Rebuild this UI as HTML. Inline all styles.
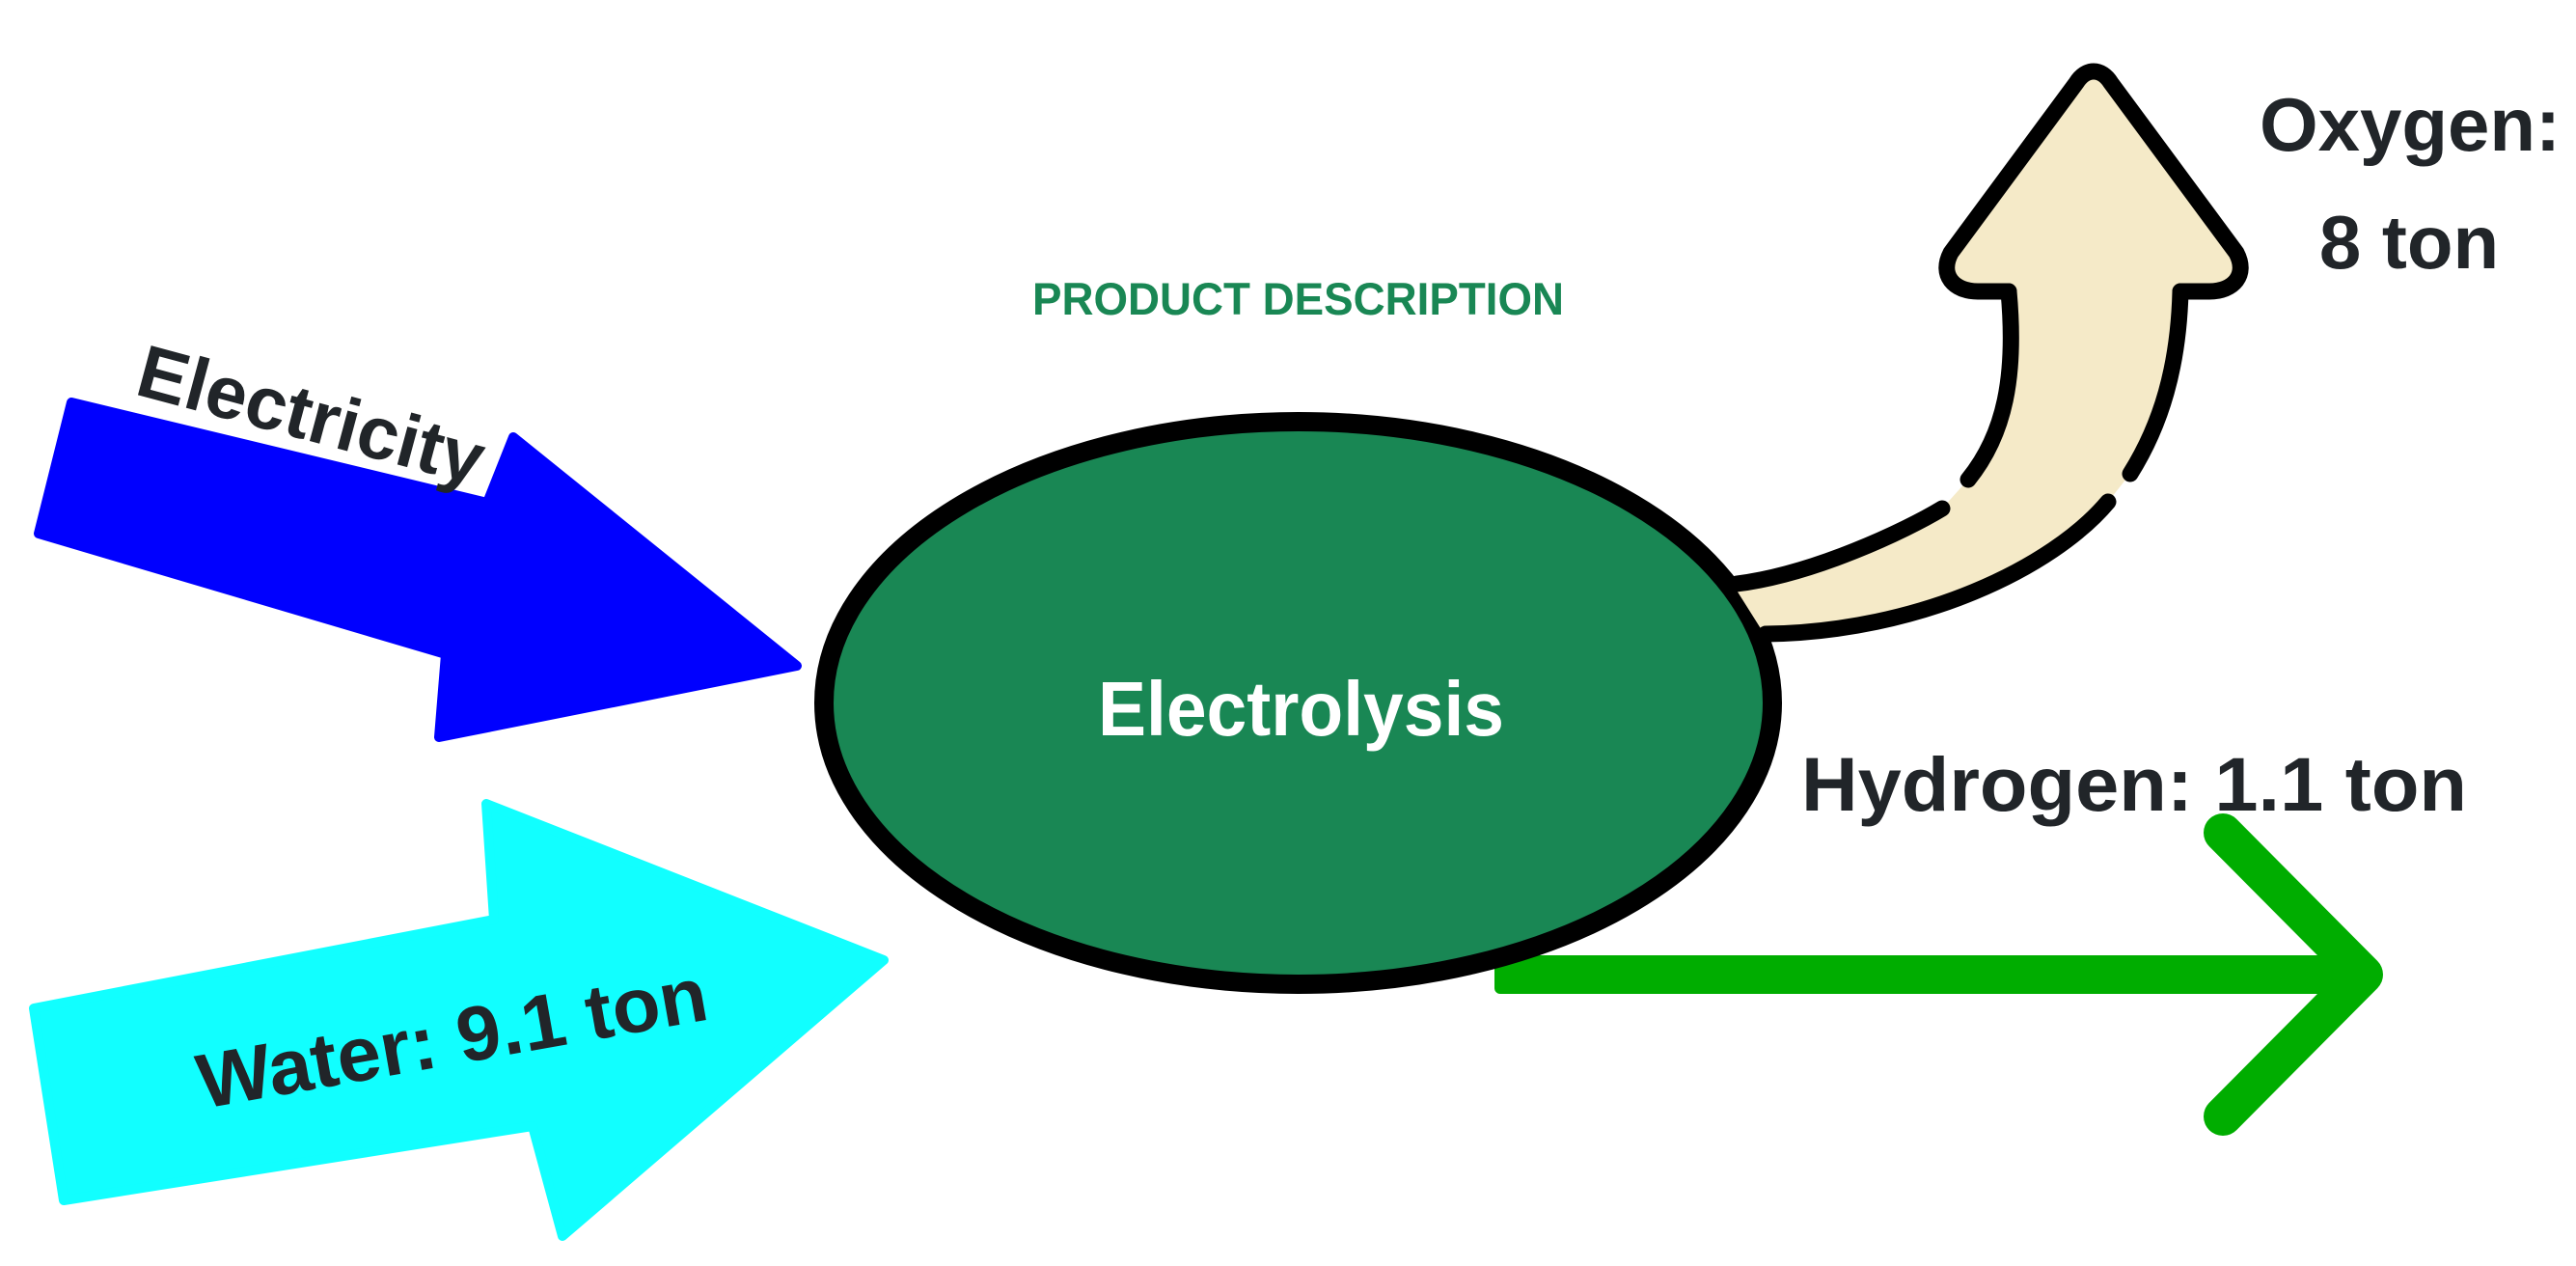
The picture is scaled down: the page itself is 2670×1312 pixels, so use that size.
<!DOCTYPE html>
<html>
<head>
<meta charset="utf-8">
<style>
html,body{margin:0;padding:0;background:#ffffff;}
svg{display:block;}
text{font-family:"Liberation Sans",Arial,sans-serif;font-weight:bold;}
</style>
</head>
<body>
<svg width="2670" height="1312" viewBox="0 0 2670 1312" xmlns="http://www.w3.org/2000/svg">
<rect width="2670" height="1312" fill="#ffffff"/>

<!-- Electricity (blue) arrow -->
<polygon points="74,417 505,521 532,453 826,690 455,764 462,678 40,553" fill="#0000ff" stroke="#0000ff" stroke-width="10" stroke-linejoin="round"/>
<text transform="translate(138,408) rotate(15)" font-size="77" fill="#212529" textLength="368" lengthAdjust="spacingAndGlyphs">Electricity</text>

<!-- Water (cyan) arrow -->
<polygon points="35,1045 512,953 504,833 916,995 583,1281 552,1167 66,1244" fill="#11ffff" stroke="#11ffff" stroke-width="10" stroke-linejoin="round"/>
<text transform="translate(210,1149) rotate(-10)" font-size="80" fill="#212529" textLength="535" lengthAdjust="spacingAndGlyphs">Water: 9.1 ton</text>

<!-- Hydrogen (green) arrow -->
<rect x="1549" y="990" width="905" height="40" rx="6" fill="#00ad00"/>
<polyline points="2304,863 2450,1010 2304,1157" fill="none" stroke="#00ad00" stroke-width="40" stroke-linecap="round" stroke-linejoin="round"/>

<!-- Ellipse -->
<ellipse cx="1345.5" cy="728.5" rx="491.5" ry="291.5" fill="#198754" stroke="#000000" stroke-width="20"/>
<text x="1348.5" y="762" font-size="80" fill="#ffffff" text-anchor="middle" textLength="421" lengthAdjust="spacingAndGlyphs">Electrolysis</text>

<!-- Oxygen (beige) arrow -->
<path d="M2082,302 L2050,302 C2025,302 2010,285 2022,262 L2152,86 C2162,70 2178,70 2188,86 L2318,262 C2330,285 2315,302 2290,302 L2260,302 C2258,380 2240,440 2208,491 L2185,520 C2128,588 1990,655 1826,653 L1797,607 C1880,595 1975,550 2013,527 L2040,497 C2078,450 2090,390 2082,302 Z" fill="#f5eac8"/>
<g fill="none" stroke="#000000" stroke-width="17" stroke-linecap="round" stroke-linejoin="round">
<path d="M2082,302 L2050,302 C2025,302 2010,285 2022,262 L2152,86 C2162,70 2178,70 2188,86 L2318,262 C2330,285 2315,302 2290,302 L2260,302"/>
<path d="M2082,302 C2090,390 2078,450 2040,497"/>
<path d="M2260,302 C2258,380 2240,440 2208,491"/>
<path d="M2013,527 C1975,550 1880,595 1800,605"/>
<path d="M2185,520 C2128,588 1990,655 1830,657"/>
</g>

<!-- Labels -->
<text x="1070" y="326" font-size="47" fill="#198754" textLength="551" lengthAdjust="spacingAndGlyphs">PRODUCT DESCRIPTION</text>
<text x="2498" y="156" font-size="78" fill="#212529" text-anchor="middle">Oxygen:</text>
<text x="2497" y="278" font-size="78" fill="#212529" text-anchor="middle">8 ton</text>
<text x="1867" y="840" font-size="79" fill="#212529" textLength="690" lengthAdjust="spacingAndGlyphs">Hydrogen: 1.1 ton</text>
</svg>
</body>
</html>
